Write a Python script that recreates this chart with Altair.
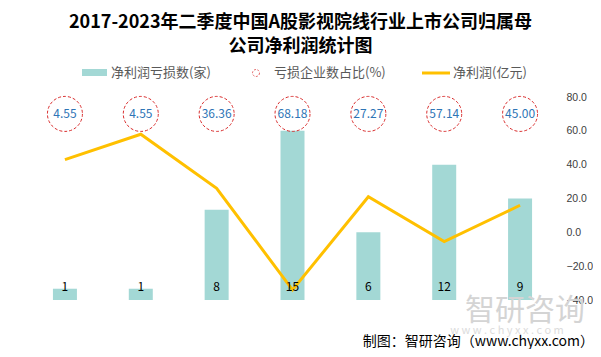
import altair as alt
import pandas as pd

quarters = ["2017Q2", "2018Q2", "2019Q2", "2020Q2", "2021Q2", "2022Q2", "2023Q2"]
loss_count = [1, 1, 8, 15, 6, 12, 9]
loss_pct = [4.55, 4.55, 36.36, 68.18, 27.27, 57.14, 45.00]
net_profit = [43, 58, 26, -34, 21, -5.5, 16]

title_lines = ["2017-2023年二季度中国A股影视院线行业上市公司归属母", "公司净利润统计图"]
legend_labels = ["净利润亏损数(家)", "亏损企业数占比(%)", "净利润(亿元)"]
source_text = "制图：智研咨询（www.chyxx.com）"
right_ticks = [-40, -20, 0, 20, 40, 60, 80]

FONT = "Noto Sans CJK SC"
NUMFONT = "Liberation Sans"
BAR_C = "#a3d8d5"
LINE_C = "#ffc000"
RED = "#d92b2b"
BLUE = "#2e75b6"

df = pd.DataFrame({"q": quarters, "count": loss_count, "pct": loss_pct, "profit": net_profit})
one = pd.DataFrame({"k": [0]})

x = alt.X("q:N", sort=quarters, title=None,
          scale=alt.Scale(paddingInner=0, paddingOuter=0),
          axis=alt.Axis(labelAngle=0, ticks=False, domainColor="#d9d9d9", domainWidth=1,
                        labelPadding=10, labelFontSize=12, labelColor="#404040", labelFont=FONT))
x_plain = alt.X("q:N", sort=quarters, title=None, axis=None)

left_scale = alt.Scale(domain=[0, 18], nice=False)
right_scale = alt.Scale(domain=[-40, 80], nice=False)

base = alt.Chart(df)

bars = base.mark_bar(size=24, color=BAR_C).encode(
    x=x, y=alt.Y("count:Q", scale=left_scale, axis=None))

line = base.mark_line(color=LINE_C, strokeWidth=3).encode(
    x=x_plain,
    y=alt.Y("profit:Q", scale=right_scale, title=None,
            axis=alt.Axis(orient="right", values=right_ticks, format=".1f", grid=False,
                          domain=False, ticks=False, labelPadding=8, labelAlign="left",
                          labelFontSize=10.5, labelColor="#404040", labelFont=NUMFONT)))

bar_labels = base.mark_text(fontSize=12, color="black", font=FONT, baseline="middle", dy=-13).encode(
    x=x_plain, y=alt.YDatum(0, scale=left_scale, axis=None), text="count:Q")

circles = base.mark_point(shape="circle", size=1225, filled=False, stroke=RED, strokeWidth=1,
                          strokeDash=[3, 2], fill="white", fillOpacity=0).encode(
    x=x_plain, y=alt.YDatum(70, scale=right_scale, axis=None))

circle_text = base.mark_text(fontSize=12, color=BLUE, font=FONT, baseline="middle").encode(
    x=x_plain, y=alt.YDatum(70, scale=right_scale, axis=None), text=alt.Text("pct:Q", format=".2f"))

leg = alt.Chart(one)
leg_rect = leg.mark_rect(color=BAR_C).encode(
    x=alt.value(55), x2=alt.value(80), y=alt.value(-28), y2=alt.value(-21))
leg_t1 = leg.mark_text(align="left", baseline="middle", fontSize=13, color="#595959", font=FONT,
                       text=legend_labels[0]).encode(x=alt.value(84), y=alt.value(-24))
leg_circ = leg.mark_point(shape="circle", size=49, filled=False, stroke=RED, strokeWidth=1,
                          strokeDash=[2, 1.5]).encode(x=alt.value(229), y=alt.value(-24))
leg_t2 = leg.mark_text(align="left", baseline="middle", fontSize=13, color="#595959", font=FONT,
                       text=legend_labels[1]).encode(x=alt.value(247), y=alt.value(-24))
leg_line = leg.mark_rule(color=LINE_C, strokeWidth=3).encode(
    x=alt.value(395), x2=alt.value(423), y=alt.value(-24))
leg_t3 = leg.mark_text(align="left", baseline="middle", fontSize=13, color="#595959", font=FONT,
                       text=legend_labels[2]).encode(x=alt.value(426), y=alt.value(-24))

wm1 = leg.mark_text(align="center", baseline="middle", fontSize=30, color="#d4d4d4", font=FONT,
                    text="智研咨询").encode(x=alt.value(498), y=alt.value(214))
wm2 = leg.mark_text(align="center", baseline="middle", fontSize=11, color="#dcdcdc", font=FONT,
                    text="w w w . c h y x x . c o m").encode(x=alt.value(480), y=alt.value(234))
src = leg.mark_text(align="right", baseline="middle", fontSize=14, color="black", font=FONT,
                    text=source_text).encode(x=alt.value(567), y=alt.value(245))

chart = alt.layer(
    bars, wm1, wm2, line, bar_labels, circles, circle_text,
    leg_rect, leg_t1, leg_circ, leg_t2, leg_line, leg_t3, src
).resolve_scale(y="independent").properties(
    width=531, height=203,
    padding={"left": 19, "top": 89, "right": 35, "bottom": 49},
    autosize=alt.AutoSizeParams(type="none"),
    title=alt.TitleParams(text=title_lines, fontSize=18, font=FONT, fontWeight="bold",
                          anchor="middle", color="black", lineHeight=24, offset=11, dx=8),
).configure_view(stroke=None)

chart.save("out.html", embed_options={"renderer": "svg", "actions": False})
